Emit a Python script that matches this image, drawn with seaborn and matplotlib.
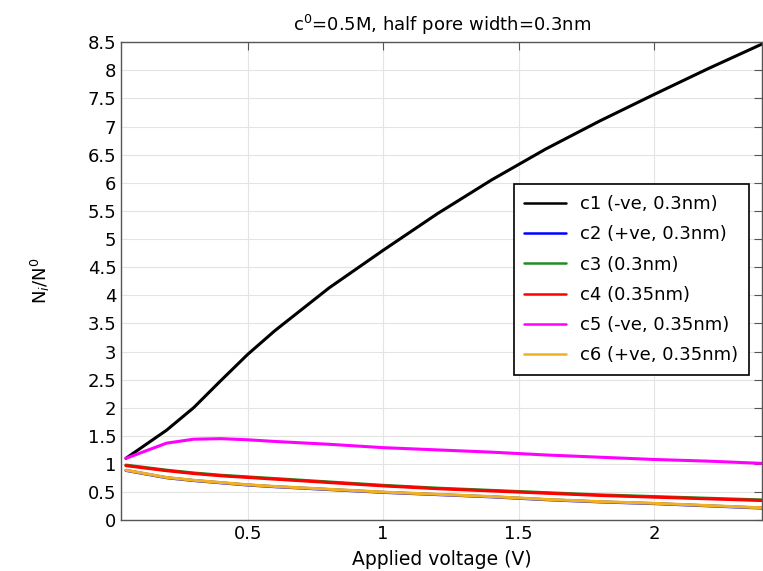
import pandas as pd
import matplotlib
matplotlib.use("Agg")
import matplotlib.pyplot as plt
import seaborn as sns

# applied voltage (V)
voltage = [0.05, 0.2, 0.3, 0.4, 0.5, 0.6, 0.8, 1.0, 1.2, 1.4, 1.6, 1.8, 2.0, 2.2, 2.4]

# N_i/N^0 for each species
c1 = [1.10, 1.60, 2.00, 2.48, 2.95, 3.37, 4.13, 4.80, 5.45, 6.05, 6.60, 7.10, 7.57, 8.03, 8.47]
c2 = [0.885, 0.755, 0.705, 0.665, 0.625, 0.595, 0.545, 0.495, 0.455, 0.415, 0.365, 0.325, 0.295, 0.255, 0.215]
c3 = [0.98, 0.89, 0.84, 0.80, 0.77, 0.74, 0.68, 0.62, 0.57, 0.53, 0.49, 0.45, 0.42, 0.39, 0.36]
c4 = [0.97, 0.88, 0.83, 0.79, 0.76, 0.73, 0.67, 0.61, 0.56, 0.52, 0.48, 0.44, 0.41, 0.38, 0.35]
c5 = [1.10, 1.37, 1.44, 1.45, 1.43, 1.40, 1.35, 1.29, 1.25, 1.21, 1.16, 1.12, 1.08, 1.05, 1.01]
c6 = [0.89, 0.76, 0.71, 0.67, 0.63, 0.60, 0.55, 0.50, 0.46, 0.42, 0.37, 0.33, 0.30, 0.26, 0.22]

labels = ["c1 (-ve, 0.3nm)", "c2 (+ve, 0.3nm)", "c3 (0.3nm)",
          "c4 (0.35nm)", "c5 (-ve, 0.35nm)", "c6 (+ve, 0.35nm)"]
colors = ["black", "#0000ff", "#228b22", "#ff0000", "#ff00ff", "#f0b020"]

rows = []
for lab, vals in zip(labels, [c1, c2, c3, c4, c5, c6]):
    for v, n in zip(voltage, vals):
        rows.append({"V": v, "N": n, "species": lab})
df = pd.DataFrame(rows)

sns.set_style("white")
plt.rcParams['font.family'] = ['DejaVu Sans']
plt.rcParams['text.color'] = 'black'
plt.rcParams['xtick.color'] = 'black'
plt.rcParams['ytick.color'] = 'black'
plt.rcParams['axes.labelcolor'] = 'black'

fig, ax = plt.subplots(figsize=(7.63, 5.71), dpi=100)
sns.lineplot(data=df, x="V", y="N", hue="species", palette=colors,
             hue_order=labels, linewidth=2.2, ax=ax, sort=False)

ax.set_xlim(0.033, 2.4)
ax.set_ylim(0, 8.5)
ax.set_xticks([0.5, 1, 1.5, 2])
ax.set_xticklabels(["0.5", "1", "1.5", "2"])
yt = [i * 0.5 for i in range(18)]
ax.set_yticks(yt)
ax.set_yticklabels([("%g" % t) for t in yt])
ax.grid(True, color="#e4e4e4", linewidth=0.8)
ax.tick_params(direction="in", length=6, top=True, right=True, labelsize=13,
               color="#555555")
for s in ax.spines.values():
    s.set_color("#555555")
    s.set_linewidth(1)

ax.set_xlabel("Applied voltage (V)", fontsize=13.5, labelpad=5)
ax.set_ylabel("N$_i$/N$^0$", fontsize=13, labelpad=26)
ax.set_title("c$^0$=0.5M, half pore width=0.3nm", fontsize=13, pad=8)

leg = ax.legend(loc="upper right", bbox_to_anchor=(0.980, 0.703), fontsize=13,
                frameon=True, fancybox=False, handlelength=2.3, borderpad=0.6,
                labelspacing=0.68, framealpha=1, borderaxespad=0)
leg.get_frame().set_edgecolor("black")
leg.get_frame().set_linewidth(1.2)
for h in leg.get_lines():
    h.set_linewidth(1.8)

plt.subplots_adjust(left=0.159, right=0.999, top=0.926, bottom=0.089)
plt.savefig("out.png", dpi=100)
